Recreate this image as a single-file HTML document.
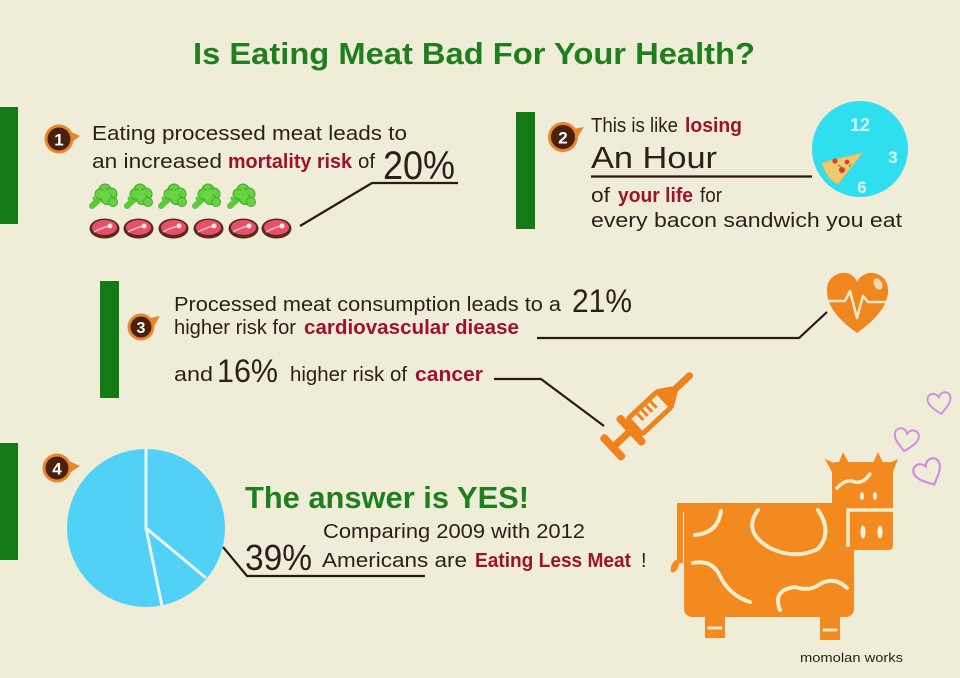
<!DOCTYPE html>
<html><head><meta charset="utf-8"><style>
html,body{margin:0;padding:0;background:#efedd8;}
svg{display:block;}
text{font-family:"Liberation Sans",sans-serif;}
</style></head><body>
<svg width="960" height="678" viewBox="0 0 960 678" xmlns="http://www.w3.org/2000/svg">
<defs>
<g id="broc">
<path d="M2,23 L13,13" stroke="#5cc83a" stroke-width="6" stroke-linecap="round"/>
<path d="M6,21 L4,15" stroke="#5cc83a" stroke-width="3" stroke-linecap="round"/>
<circle cx="15" cy="7" r="6" fill="#66d142" stroke="#42a82c" stroke-width="1"/>
<circle cx="21" cy="11" r="6" fill="#66d142" stroke="#42a82c" stroke-width="1"/>
<circle cx="10" cy="11" r="5" fill="#66d142" stroke="#42a82c" stroke-width="1"/>
<circle cx="17" cy="16" r="5.5" fill="#66d142" stroke="#42a82c" stroke-width="1"/>
<circle cx="23" cy="19" r="4.5" fill="#66d142" stroke="#42a82c" stroke-width="1"/>
<circle cx="15" cy="12" r="5" fill="#6ad444"/>
</g>
<g id="steak">
<ellipse cx="15.5" cy="10.5" rx="15" ry="10" fill="#5b2a1c"/>
<ellipse cx="15.5" cy="9.5" rx="12.5" ry="7.5" fill="#e65068"/>
<path d="M5,14 Q12,10 20,8" stroke="#f6b6c0" stroke-width="1.5" fill="none"/>
<circle cx="21" cy="8" r="2.5" fill="#fbe2e4"/>
</g>
<path id="heart" d="M12,21 C5,15 1,11 1,6.5 C1,3 3.5,1 6.5,1 C9,1 11,3 12,5 C13,3 15,1 17.5,1 C20.5,1 23,3 23,6.5 C23,11 19,15 12,21 Z"/>
</defs>

<!-- title -->
<text x="193" y="64" font-size="31" font-weight="bold" fill="#1f7f1f" textLength="562" lengthAdjust="spacingAndGlyphs">Is Eating Meat Bad For Your Health?</text>

<!-- green bars -->
<rect x="0" y="107" width="18" height="117" fill="#137a16"/>
<rect x="516" y="112" width="19" height="117" fill="#137a16"/>
<rect x="100" y="281" width="19" height="117" fill="#137a16"/>
<rect x="0" y="443" width="18" height="117" fill="#137a16"/>

<!-- badges -->
<g>
<polygon points="69,131 80,136 70,144" fill="#e8862a"/>
<circle cx="59" cy="139" r="14.5" fill="#e8862a"/>
<circle cx="59" cy="139" r="11.5" fill="#4a200e"/>
<text x="59" y="145.5" font-size="17" font-weight="bold" fill="#fff" text-anchor="middle">1</text>
</g>
<g>
<polygon points="573,129 584,127 575,141" fill="#e8862a"/>
<circle cx="563" cy="137" r="15" fill="#e8862a"/>
<circle cx="563" cy="137" r="12" fill="#4a200e"/>
<text x="563" y="143.5" font-size="17" font-weight="bold" fill="#fff" text-anchor="middle">2</text>
</g>
<g>
<polygon points="150,318 160,316 152,330" fill="#e8862a"/>
<circle cx="141" cy="327" r="13.5" fill="#e8862a"/>
<circle cx="141" cy="327" r="10.5" fill="#4a200e"/>
<text x="141" y="333" font-size="16" font-weight="bold" fill="#fff" text-anchor="middle">3</text>
</g>
<g>
<polygon points="67,460 80,466 68,474" fill="#e8862a"/>
<circle cx="57" cy="468" r="14.5" fill="#e8862a"/>
<circle cx="57" cy="468" r="11.5" fill="#4a200e"/>
<text x="57" y="474.5" font-size="17" font-weight="bold" fill="#fff" text-anchor="middle">4</text>
</g>

<!-- section 1 -->
<text x="92" y="140" font-size="20" fill="#2a1f1a" textLength="315" lengthAdjust="spacingAndGlyphs">Eating processed meat leads to</text>
<text x="92" y="168" font-size="20" fill="#2a1f1a" textLength="130" lengthAdjust="spacingAndGlyphs">an increased</text>
<text x="228" y="168" font-size="20" font-weight="bold" fill="#a0112b" textLength="124" lengthAdjust="spacingAndGlyphs">mortality risk</text>
<text x="358" y="168" font-size="20" fill="#2a1f1a" textLength="17" lengthAdjust="spacingAndGlyphs">of</text>
<text x="383" y="179" font-size="40" fill="#2a1f1a" textLength="72" lengthAdjust="spacingAndGlyphs">20%</text>
<polyline points="300,226 372,183 458,183" fill="none" stroke="#2a1a12" stroke-width="2.2"/>
<use href="#broc" x="90" y="183"/>
<use href="#broc" x="125" y="183"/>
<use href="#broc" x="159" y="183"/>
<use href="#broc" x="193" y="183"/>
<use href="#broc" x="228" y="183"/>
<use href="#steak" x="89" y="218"/>
<use href="#steak" x="123" y="218"/>
<use href="#steak" x="158" y="218"/>
<use href="#steak" x="193" y="218"/>
<use href="#steak" x="228" y="218"/>
<use href="#steak" x="261" y="218"/>

<!-- section 2 -->
<text x="591" y="132" font-size="20" fill="#2a1f1a" textLength="87" lengthAdjust="spacingAndGlyphs">This is like</text>
<text x="685" y="132" font-size="20" font-weight="bold" fill="#a0112b" textLength="57" lengthAdjust="spacingAndGlyphs">losing</text>
<text x="591" y="168" font-size="31" fill="#2a1f1a" textLength="126" lengthAdjust="spacingAndGlyphs">An Hour</text>
<line x1="591" y1="176.5" x2="812" y2="176.5" stroke="#2a1a12" stroke-width="2.2"/>
<text x="591" y="202" font-size="20" fill="#2a1f1a" textLength="19" lengthAdjust="spacingAndGlyphs">of</text>
<text x="618" y="202" font-size="20" font-weight="bold" fill="#a0112b" textLength="75" lengthAdjust="spacingAndGlyphs">your life</text>
<text x="700" y="202" font-size="20" fill="#2a1f1a" textLength="22" lengthAdjust="spacingAndGlyphs">for</text>
<text x="591" y="227" font-size="20" fill="#2a1f1a" textLength="311" lengthAdjust="spacingAndGlyphs">every bacon sandwich you eat</text>
<!-- clock -->
<circle cx="860" cy="149" r="48" fill="#2fdff0"/>
<text x="860" y="131" font-size="18" font-weight="bold" fill="#dcfbfc" text-anchor="middle">12</text>
<text x="893" y="163" font-size="17" font-weight="bold" fill="#dcfbfc" text-anchor="middle">3</text>
<text x="862" y="193" font-size="17" font-weight="bold" fill="#dcfbfc" text-anchor="middle">6</text>
<path d="M822,163 L862,153 L838,184 Q826,178 822,163 Z" fill="#f1c872" stroke="#e9b85e" stroke-width="1"/>
<circle cx="835" cy="161" r="2.6" fill="#e43a2a"/>
<circle cx="842" cy="170" r="3" fill="#e43a2a"/>
<circle cx="847" cy="162" r="2.4" fill="#e43a2a"/>
<path d="M838,165 l3,2 M849,167 l2,-3" stroke="#5aa23a" stroke-width="1.2"/>

<!-- section 3 -->
<text x="174" y="311" font-size="20" fill="#2a1f1a" textLength="387" lengthAdjust="spacingAndGlyphs">Processed meat consumption leads to a</text>
<text x="572" y="312" font-size="32" fill="#2a1f1a" textLength="60" lengthAdjust="spacingAndGlyphs">21%</text>
<text x="174" y="334" font-size="20" fill="#2a1f1a" textLength="122" lengthAdjust="spacingAndGlyphs">higher risk for</text>
<text x="304" y="334" font-size="20" font-weight="bold" fill="#a0112b" textLength="215" lengthAdjust="spacingAndGlyphs">cardiovascular diease</text>
<text x="174" y="381" font-size="20" fill="#2a1f1a" textLength="39" lengthAdjust="spacingAndGlyphs">and</text>
<text x="217" y="382" font-size="32" fill="#2a1f1a" textLength="61" lengthAdjust="spacingAndGlyphs">16%</text>
<text x="290" y="381" font-size="20" fill="#2a1f1a" textLength="117" lengthAdjust="spacingAndGlyphs">higher risk of</text>
<text x="415" y="381" font-size="20" font-weight="bold" fill="#a0112b" textLength="68" lengthAdjust="spacingAndGlyphs">cancer</text>
<polyline points="537,338 799,338 827,312" fill="none" stroke="#2a1a12" stroke-width="2.2"/>
<polyline points="494,379 541,379 604,426" fill="none" stroke="#2a1a12" stroke-width="2.2"/>
<!-- heart -->
<path d="M857,333 C832,315 827,302 827,290 C827,277 838,272 846,273 C852,274 856,278 857,282 C859,278 863,274 869,273 C878,272 888,278 888,290 C888,302 882,315 857,333 Z" fill="#f0861e"/>
<ellipse cx="878" cy="284" rx="4" ry="6" fill="#f3d9b0" transform="rotate(-30 878 284)"/>
<polyline points="829,301 845,301 850,291 857,318 863,296 868,302 886,302" fill="none" stroke="#f4e8c8" stroke-width="2.5" stroke-linejoin="round"/>
<!-- syringe -->
<g transform="translate(612,448) rotate(-43)" fill="#f0821e" stroke="none">
<rect x="-3" y="-16" width="8" height="32" rx="3"/>
<rect x="4" y="-3.5" width="20" height="7"/>
<rect x="22" y="-19" width="8" height="38" rx="3"/>
<rect x="31.5" y="-10.5" width="40" height="21" rx="2" fill="none" stroke="#f0821e" stroke-width="5"/>
<path d="M42,-8 V1 M48,-8 V1 M54,-8 V1 M60,-8 V1" stroke="#f0821e" stroke-width="3"/>
<polygon points="72,-13 86,-4 86,4 72,13"/>
<line x1="85" y1="0" x2="106" y2="0" stroke="#f0821e" stroke-width="7" stroke-linecap="round"/>
</g>

<!-- section 4 -->
<circle cx="146" cy="528" r="79" fill="#52d1f6"/>
<path d="M146,449 L146,528 L206,578 M146,528 L162,606" fill="none" stroke="#e8f8fc" stroke-width="3"/>
<text x="245" y="508" font-size="31" font-weight="bold" fill="#1f7f1f" textLength="284" lengthAdjust="spacingAndGlyphs">The answer is YES!</text>
<text x="323" y="538" font-size="20" fill="#2a1f1a" textLength="262" lengthAdjust="spacingAndGlyphs">Comparing 2009 with 2012</text>
<text x="245" y="570" font-size="36" fill="#2a1f1a" textLength="67" lengthAdjust="spacingAndGlyphs">39%</text>
<text x="322" y="567" font-size="20" fill="#2a1f1a" textLength="145" lengthAdjust="spacingAndGlyphs">Americans are</text>
<text x="475" y="567" font-size="20" font-weight="bold" fill="#a0112b" textLength="156" lengthAdjust="spacingAndGlyphs">Eating Less Meat</text>
<text x="641" y="567" font-size="20" fill="#2a1f1a">!</text>
<polyline points="223,547 247,576 425,576" fill="none" stroke="#2a1a12" stroke-width="2.2"/>

<!-- cow -->
<g fill="#f28a1f">
<rect x="684" y="503" width="170" height="114" rx="8"/>
<rect x="677" y="503" width="20" height="9" rx="3"/>
<rect x="677" y="503" width="6" height="60"/>
<ellipse cx="675" cy="566" rx="3.5" ry="7" transform="rotate(25 675 566)"/>
<rect x="832" y="462" width="61" height="88" rx="4"/>
<polygon points="825,459 838,465 843,452 850,465 872,465 878,452 884,465 898,459 893,472 832,472"/>
<rect x="705" y="610" width="20" height="28"/>
<rect x="820" y="610" width="20" height="30"/>
</g>
<g fill="none" stroke="#f3ecc9" stroke-width="4" stroke-linecap="round">
<path d="M695,535 Q718,533 721,511"/>
<path d="M758,510 Q742,532 770,548 Q795,560 818,549 Q833,532 818,510"/>
<path d="M693,563 Q712,559 720,576 Q730,596 750,602"/>
<path d="M780,610 Q772,590 795,587 Q810,592 820,584 Q835,576 847,588"/>
<path d="M837,488 Q846,478 855,482 Q863,484 870,474" stroke-width="3.5"/>
<path d="M848,547 V510 H893" stroke-width="3.5" stroke-linecap="butt"/>
<path d="M709,628 H721 M824,630 H836" stroke-width="3"/>
</g>
<g fill="#f6f0d8">
<ellipse cx="862" cy="496" rx="2" ry="4"/>
<ellipse cx="875" cy="496" rx="2" ry="4"/>
<ellipse cx="863" cy="532" rx="2.6" ry="6.5"/>
<ellipse cx="880" cy="532" rx="2.6" ry="6.5"/>
</g>
<!-- hearts -->
<g fill="none" stroke="#d68be2" stroke-width="1.8">
<use href="#heart" transform="translate(927,392) rotate(-8 12 11) scale(1.05)"/>
<use href="#heart" transform="translate(893,428) rotate(10 12 11) scale(1.1)"/>
<use href="#heart" transform="translate(913,461) rotate(-25 12 11) scale(1.25)"/>
</g>
<text x="800" y="662" font-size="13" fill="#2a1f1a" textLength="103" lengthAdjust="spacingAndGlyphs">momolan works</text>
</svg>
</body></html>
